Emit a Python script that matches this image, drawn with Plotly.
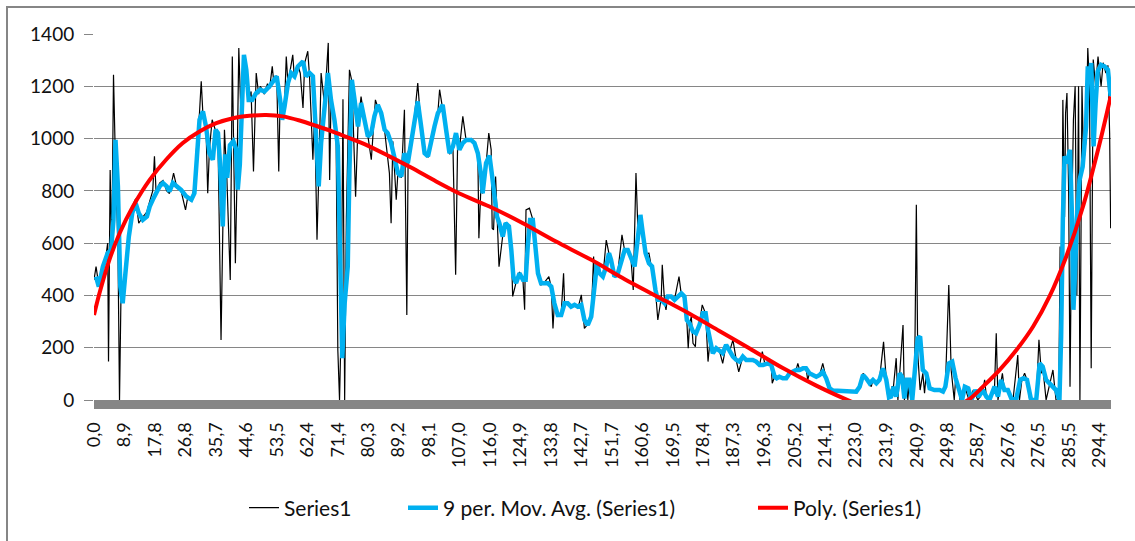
import plotly.graph_objects as go

# ---------------- data ----------------
tick_labels = ["0,0", "8,9", "17,8", "26,8", "35,7", "44,6", "53,5", "62,4", "71,4",
               "80,3", "89,2", "98,1", "107,0", "116,0", "124,9", "133,8", "142,7",
               "151,7", "160,6", "169,5", "178,4", "187,3", "196,3", "205,2", "214,1",
               "223,0", "231,9", "240,9", "249,8", "258,7", "267,6", "276,5", "285,5",
               "294,4"]

# Series1 (black, raw signal): (x, value)
series1_points = [
    (0.0, 459), (0.6, 510), (1.4, 440), (2.6, 520), (3.4, 540), (4.0, 600), (4.25, 147), (4.5, 560),
    (4.73, 880), (5.2, 560), (5.71, 1244), (6.3, 900), (7.0, 600), (7.47, 0), (7.9, 400), (8.4, 380),
    (9.2, 520), (10.2, 650), (11.2, 740), (12.2, 770), (13.1, 676), (14.3, 700), (15.5, 720), (16.3, 760),
    (17.2, 800), (17.7, 932), (18.2, 790), (19.2, 830), (20.2, 840), (21.3, 800), (22.1, 790), (23.3, 868),
    (24.3, 810), (25.5, 800), (26.8, 727), (27.5, 780), (28.5, 760), (29.4, 820), (30.1, 980), (30.9, 1100),
    (31.4, 1219), (31.9, 1090), (32.8, 1040), (33.3, 791), (33.8, 960), (34.6, 1072), (35.6, 1030),
    (36.3, 1000), (37.2, 230), (37.7, 700), (38.2, 1034), (38.9, 850), (39.9, 459), (40.5, 1314),
    (40.9, 990), (41.4, 523), (41.8, 800), (42.4, 1346), (43.0, 1100), (43.8, 1300), (44.6, 1250),
    (45.3, 1150), (46.0, 1180), (46.7, 874), (47.5, 1251), (48.2, 1170), (48.7, 1200), (49.9, 1170),
    (50.8, 1210), (51.4, 1190), (52.2, 1276), (52.6, 1220), (53.5, 1240), (54.1, 874), (54.5, 1150),
    (55.1, 1080), (55.8, 1130), (56.3, 1314), (56.8, 1210), (57.7, 1289), (58.2, 1320), (58.7, 1230),
    (59.7, 1280), (60.4, 1250), (61.2, 1117), (61.7, 1290), (62.6, 1334), (63.1, 1240), (64.1, 919),
    (64.6, 1100), (65.3, 613), (65.8, 850), (66.5, 1251), (67.5, 1130), (68.6, 1366), (69.0, 842),
    (69.4, 1150), (70.4, 1070), (70.9, 1000), (71.4, 191), (71.9, 0), (72.4, 300), (72.9, 1150),
    (73.4, 0), (73.9, 700), (74.8, 1263), (75.5, 1220), (76.6, 778), (77.3, 1050), (78.2, 1161),
    (79.2, 1070), (80.2, 1010), (81.2, 919), (82.4, 1148), (83.1, 1120), (84.1, 1100), (85.1, 1030),
    (86.5, 868), (87.0, 676), (87.5, 990), (88.5, 766), (89.0, 870), (90.0, 850), (90.9, 1110),
    (91.6, 325), (92.0, 950), (92.9, 990), (93.8, 1080), (94.8, 1212), (95.8, 1040), (96.8, 940),
    (97.8, 930), (98.7, 1000), (99.7, 1050), (100.7, 1100), (101.2, 1187), (102.1, 1120), (103.1, 1030),
    (104.1, 940), (105.1, 970), (105.9, 479), (106.5, 1000), (107.0, 960), (108.0, 1085), (109.0, 990),
    (110.4, 1000), (111.4, 980), (112.4, 940), (112.7, 619), (113.4, 850), (113.8, 790), (114.8, 900),
    (115.6, 1021), (116.3, 957), (116.6, 657), (117.0, 651), (117.6, 855), (118.0, 700), (118.6, 510),
    (119.7, 630), (120.5, 680), (121.5, 660), (122.2, 580), (122.6, 396), (123.6, 450), (124.6, 490),
    (125.6, 460), (126.1, 345), (126.5, 727), (127.5, 734), (128.5, 690), (129.3, 590), (130.0, 480),
    (130.9, 440), (131.9, 450), (133.2, 472), (133.9, 430), (134.4, 274), (134.8, 370), (135.8, 320),
    (136.8, 330), (137.5, 485), (137.8, 370), (138.7, 365), (139.7, 357), (140.7, 364), (141.7, 350),
    (142.7, 402), (143.6, 274), (144.6, 290), (145.6, 320), (146.3, 549), (146.6, 430), (147.3, 523),
    (148.0, 480), (149.0, 470), (150.0, 612), (150.8, 560), (151.4, 530), (152.4, 470), (153.4, 490),
    (154.6, 632), (155.4, 570), (156.3, 575), (157.3, 530), (157.9, 421), (158.7, 868), (159.3, 640),
    (160.0, 700), (160.7, 630), (161.5, 560), (162.5, 562), (163.4, 500), (164.4, 420), (165.1, 306),
    (166.1, 390), (166.4, 517), (167.1, 370), (167.5, 345), (168.0, 400), (169.0, 390), (170.0, 385),
    (171.3, 472), (172.0, 400), (172.9, 390), (173.6, 300), (174.0, 198), (174.4, 290), (174.9, 319),
    (175.4, 217), (176.1, 204), (176.3, 255), (177.3, 290), (178.1, 364), (179.1, 330), (179.8, 147),
    (180.4, 230), (181.2, 180), (182.2, 200), (183.2, 185), (184.1, 140), (185.1, 211), (186.1, 185),
    (187.1, 230), (188.1, 150), (188.8, 108), (190.0, 166), (191.0, 153), (192.0, 155), (192.9, 150),
    (193.9, 147), (194.9, 134), (195.7, 185), (196.5, 134), (197.3, 140), (198.3, 134), (198.6, 64),
    (199.3, 89), (199.9, 83), (200.7, 89), (201.7, 83), (202.7, 83), (203.7, 102), (204.6, 108),
    (205.6, 115), (206.1, 140), (206.6, 115), (207.6, 121), (208.5, 121), (209.0, 77), (209.5, 102),
    (210.5, 96), (211.5, 89), (212.5, 96), (213.4, 140), (214.4, 83), (215.4, 45), (216.4, 36),
    (217.8, 36), (219.3, 36), (221.2, 32), (223.2, 32), (224.2, 51), (225.2, 102), (226.1, 83),
    (227.1, 64), (227.6, 51), (228.1, 77), (229.1, 64), (230.0, 77), (231.2, 223), (232.0, 77),
    (232.5, 0), (233.4, 38), (233.7, 51), (234.1, 51), (234.9, 160), (235.4, 0), (235.9, 102),
    (236.9, 287), (237.3, 0), (238.0, 77), (238.3, 0), (238.8, 77), (239.3, 0), (240.3, 89),
    (240.8, 747), (241.2, 179), (241.9, 38), (242.7, 102), (243.2, 26), (243.7, 102), (244.7, 45),
    (246.1, 38), (247.6, 38), (248.6, 32), (249.3, 51), (250.3, 440), (251.0, 115), (251.9, 0),
    (252.3, 83), (253.3, 38), (253.6, 0), (255.0, 51), (256.2, 0), (257.5, 38), (258.8, 0),
    (259.5, 13), (260.3, 38), (260.8, 77), (261.3, 13), (262.2, 0), (263.7, 51), (264.2, 255),
    (264.7, 0), (265.6, 77), (266.0, 102), (266.6, 38), (267.6, 38), (268.6, 6), (269.1, 0),
    (270.5, 172), (271.0, 0), (271.7, 77), (272.5, 102), (273.2, 77), (274.0, 0), (275.9, 0),
    (276.7, 230), (277.4, 102), (277.8, 128), (278.8, 0), (279.8, 64), (280.8, 115), (281.7, 0),
    (282.5, 0), (282.9, 587), (283.3, 200), (283.7, 1148), (284.2, 700), (284.5, 1097), (284.9, 1174),
    (285.4, 800), (285.8, 51), (286.3, 700), (286.8, 1072), (287.3, 1200), (287.8, 400), (288.3, 1200),
    (288.7, 0), (289.3, 1200), (289.8, 900), (290.5, 1000), (291.0, 1346), (291.5, 1200), (292.0, 121),
    (292.6, 1302), (293.3, 1200), (294.0, 1314), (294.9, 1200), (295.5, 1290), (296.3, 1250),
    (296.9, 1280), (297.4, 1021), (297.7, 657),
]

# 9 per. Mov. Avg. (Series1) (blue), as drawn in the reference: (x, value)
mov_avg_points = [
    (0.6, 472), (1.4, 434), (2.6, 510), (4.0, 562), (5.0, 574), (5.7, 689), (6.3, 995), (7.0, 817),
    (7.7, 434), (8.4, 370), (9.2, 485), (10.2, 625), (11.2, 715), (12.2, 753), (13.1, 715), (14.3, 689),
    (15.5, 702), (16.3, 740), (17.2, 766), (18.2, 791), (19.2, 817), (20.2, 830), (21.3, 817),
    (22.1, 798), (23.1, 830), (24.3, 817), (25.5, 804), (27.0, 779), (28.5, 766), (29.4, 791),
    (30.1, 944), (30.9, 1072), (31.9, 1104), (32.8, 1046), (33.8, 944), (34.8, 919), (35.6, 1034),
    (36.3, 1021), (36.9, 906), (37.7, 664), (38.4, 940), (39.0, 850), (39.8, 975), (40.8, 990),
    (41.6, 960), (42.1, 805), (42.7, 900), (43.3, 1150), (43.9, 1320), (44.6, 1263), (45.3, 1148),
    (46.3, 1148), (47.5, 1174), (48.7, 1187), (49.9, 1180), (51.4, 1200), (52.6, 1225), (53.5, 1238),
    (54.5, 1148), (55.1, 1072), (55.8, 1123), (56.8, 1212), (57.7, 1251), (58.7, 1238), (59.7, 1276),
    (61.2, 1295), (62.1, 1238), (63.1, 1251), (64.1, 1238), (65.1, 944), (65.8, 817), (66.5, 983),
    (67.5, 1136), (68.5, 1251), (69.4, 1148), (70.4, 1072), (71.4, 970), (71.9, 689), (72.4, 370),
    (72.7, 160), (73.4, 370), (74.3, 510), (74.8, 881), (75.5, 1225), (76.3, 1148), (77.3, 1046),
    (78.2, 1136), (79.2, 1072), (80.2, 1008), (81.2, 1021), (82.1, 1085), (83.1, 1129), (84.1, 1097),
    (85.1, 1034), (86.0, 1021), (87.0, 983), (88.0, 919), (89.0, 868), (90.0, 855), (90.9, 944),
    (91.9, 906), (92.9, 983), (93.8, 1072), (94.8, 1142), (95.8, 1046), (96.8, 944), (97.8, 932),
    (98.7, 995), (99.7, 1046), (100.7, 1097), (102.1, 1129), (103.1, 1034), (104.1, 944), (105.1, 970),
    (106.0, 1021), (107.0, 957), (108.0, 983), (109.0, 995), (110.4, 995), (111.4, 983), (112.4, 944),
    (113.4, 855), (113.8, 791), (114.8, 906), (115.8, 935), (116.6, 855), (117.3, 778), (118.0, 702),
    (118.7, 676), (119.7, 625), (120.5, 676), (121.5, 664), (122.2, 574), (122.8, 472), (123.6, 447),
    (124.6, 485), (125.6, 460), (126.4, 460), (127.0, 587), (127.7, 689), (128.5, 689), (129.3, 587),
    (130.0, 485), (130.9, 447), (131.9, 447), (132.9, 447), (133.9, 434), (134.8, 370), (135.8, 325),
    (136.8, 325), (137.8, 370), (138.7, 370), (139.7, 357), (140.7, 364), (141.7, 357), (142.7, 364),
    (143.6, 306), (144.6, 287), (145.6, 319), (146.6, 434), (147.3, 523), (148.0, 485), (149.0, 472),
    (150.0, 511), (150.8, 562), (151.4, 536), (152.4, 472), (153.4, 485), (154.4, 523), (155.4, 574),
    (156.3, 574), (157.3, 536), (158.3, 511), (159.3, 625), (160.0, 708), (160.7, 638), (161.5, 562),
    (162.5, 523), (163.4, 511), (164.4, 421), (165.1, 383), (166.1, 383), (167.1, 370), (168.0, 396),
    (169.0, 396), (170.0, 383), (171.0, 396), (172.0, 408), (172.9, 396), (173.6, 306), (174.4, 293),
    (175.4, 262), (176.3, 255), (177.3, 287), (178.3, 332), (179.1, 332), (179.8, 268), (180.4, 230),
    (181.2, 179), (182.2, 198), (183.2, 185), (184.1, 179), (185.1, 211), (186.1, 185), (187.1, 166),
    (188.1, 153), (189.0, 147), (190.0, 166), (191.0, 153), (192.0, 153), (192.9, 153), (193.9, 147),
    (194.9, 134), (195.9, 134), (197.3, 140), (198.3, 134), (199.3, 89), (199.9, 83), (200.7, 89),
    (201.7, 83), (202.7, 83), (203.7, 102), (204.6, 108), (205.6, 115), (206.6, 115), (207.6, 121),
    (208.5, 121), (209.5, 102), (210.5, 96), (211.5, 89), (212.5, 96), (213.4, 108), (214.4, 83),
    (215.4, 45), (216.4, 36), (217.8, 36), (219.3, 36), (221.2, 32), (223.2, 32), (224.2, 51),
    (225.2, 96), (226.1, 83), (227.1, 64), (228.1, 77), (229.1, 64), (230.0, 77), (231.0, 121),
    (232.0, 77), (232.8, 10), (233.4, 13), (234.1, 51), (234.9, 13), (235.9, 102), (236.6, 89),
    (237.3, 6), (238.0, 77), (238.8, 77), (239.6, 0), (240.3, 89), (241.2, 236), (241.9, 243),
    (242.7, 115), (243.7, 102), (244.7, 45), (246.1, 38), (247.6, 38), (248.6, 32), (249.3, 51),
    (250.3, 140), (251.3, 147), (252.3, 83), (253.3, 38), (254.2, 0), (255.0, 51), (256.0, 45),
    (256.9, 0), (258.1, 38), (259.1, 13), (260.3, 38), (261.3, 13), (262.2, 0), (263.7, 51),
    (264.7, 13), (265.6, 77), (266.6, 38), (267.6, 38), (268.6, 6), (270.0, 0), (271.2, 77),
    (272.2, 83), (273.2, 77), (274.4, 0), (275.9, 0), (276.9, 140), (277.8, 128), (278.8, 77),
    (279.8, 64), (280.8, 51), (281.7, 38), (282.7, 0), (283.2, 243), (283.7, 689), (284.2, 932),
    (284.9, 906), (285.4, 944), (285.8, 957), (286.4, 689), (286.8, 345), (287.3, 498), (287.8, 689),
    (288.6, 842), (289.5, 893), (290.0, 970), (290.5, 1046), (291.0, 1276), (291.5, 1238),
    (292.0, 1289), (292.7, 970), (293.3, 1136), (293.9, 1257), (294.9, 1282), (295.9, 1276),
    (296.9, 1263), (297.4, 1200), (297.7, 1161),
]

# Poly. (Series1) trendline (red), as drawn in the reference: (x, value)
poly_points = [
    (0.0, 325), (1.6, 408), (4.5, 536), (7.5, 638), (11.4, 740), (16.3, 842), (21.1, 919), (26.0, 983),
    (30.9, 1027), (35.8, 1059), (40.7, 1078), (45.5, 1087), (50.4, 1090), (55.3, 1085), (60.2, 1069),
    (65.0, 1049), (69.9, 1027), (74.8, 1002), (79.7, 976), (86.5, 932), (93.0, 888), (100.2, 836),
    (107.0, 790), (115.8, 740), (125.6, 676), (135.3, 606), (145.6, 536), (155.4, 462), (164.3, 400),
    (174.4, 330), (183.0, 265), (192.0, 197), (201.7, 122), (211.5, 55), (221.2, -3), (230.0, -45),
    (240.0, -62), (248.0, -45), (256.0, 0), (260.3, 51), (265.2, 115), (270.1, 191), (275.0, 281),
    (279.8, 396), (284.7, 549), (289.6, 740), (294.5, 983), (297.7, 1161),
]

# ---------------- figure ----------------
W, H = 1135, 541
ML, MR, MT, MB = 94, 24, 34, 141
PW, PH = W - ML - MR, H - MT - MB

tick_vals = [float(t.replace(",", ".")) for t in tick_labels]

def unzip(points):
    return [p[0] for p in points], [p[1] for p in points]

s1x, s1y = unzip(series1_points)
max_, may_ = unzip(mov_avg_points)
pox, poy = unzip(poly_points)

grey = "#868686"
txt = "#111111"
font_family = "Lato, 'Open Sans', sans-serif"

def px_to_paper_x(px):
    return (px - ML) / PW

def py_to_paper_y(py):
    return (H - MB - py) / PH

fig = go.Figure()
fig.add_trace(go.Scatter(x=s1x, y=s1y, mode="lines", name="Series1", legend="legend",
                         line=dict(color="#000000", width=1.2)))
fig.add_trace(go.Scatter(x=max_, y=may_, mode="lines", name="9 per. Mov. Avg. (Series1)",
                         legend="legend2", line=dict(color="#00B0F0", width=4.5)))
fig.add_trace(go.Scatter(x=pox, y=poy, mode="lines", name="Poly. (Series1)", legend="legend3",
                         line=dict(color="#FF0000", width=4, shape="spline", smoothing=0.8)))

def legend_at(text_start_px):
    return dict(orientation="h", x=px_to_paper_x(text_start_px - 40), xanchor="left",
                y=py_to_paper_y(508), yanchor="middle",
                font=dict(family=font_family, size=21, color=txt),
                bgcolor="rgba(0,0,0,0)", borderwidth=0)

fig.update_layout(
    width=W, height=H,
    margin=dict(l=ML, r=MR, t=MT, b=MB, pad=0),
    paper_bgcolor="white", plot_bgcolor="white",
    font=dict(family=font_family, size=18, color=txt),
    showlegend=True,
    legend=legend_at(284),
    legend2=legend_at(443),
    legend3=legend_at(793),
    hovermode=False,
    xaxis=dict(range=[0, 297.8], tickmode="array", tickvals=tick_vals, ticktext=tick_labels,
               tickangle=-90, showgrid=False, zeroline=False,
               showline=True, linewidth=9, linecolor=grey, ticks="",
               ticklabelstandoff=6,
               tickfont=dict(size=18, color=txt)),
    yaxis=dict(range=[0, 1400], dtick=200, tick0=0, showgrid=True, gridcolor=grey, gridwidth=1,
               zeroline=False, showline=False, ticks="outside", ticklen=9, tickcolor=grey,
               tickwidth=1, ticklabelstandoff=6,
               tickfont=dict(size=19, color=txt)),
    shapes=[dict(type="rect", xref="paper", yref="paper",
                 x0=px_to_paper_x(7), x1=px_to_paper_x(1145),
                 y0=py_to_paper_y(560), y1=py_to_paper_y(7),
                 line=dict(color=grey, width=2), fillcolor="rgba(0,0,0,0)", layer="below")],
)

fig.write_html("out.html", config={"displayModeBar": False})
